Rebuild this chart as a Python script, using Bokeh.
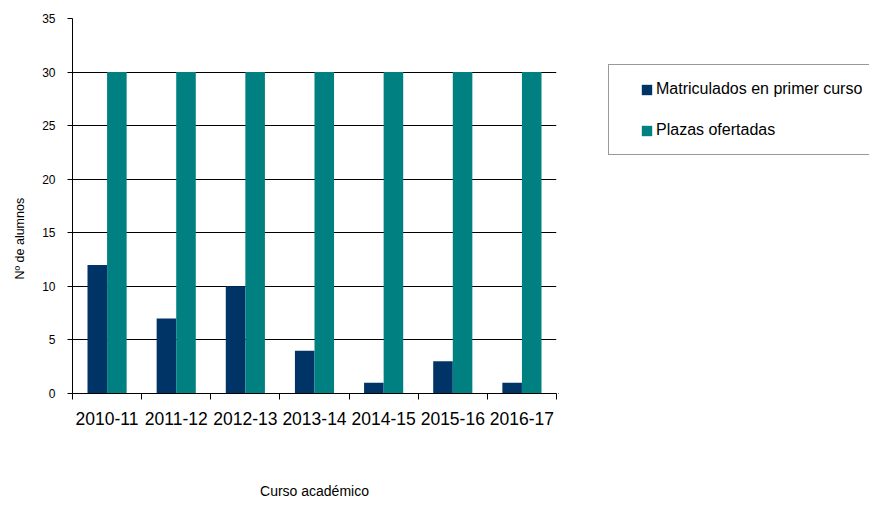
from bokeh.plotting import figure
from bokeh.models import (ColumnDataSource, FixedTicker, Legend, LegendItem, Range1d, Title)
from bokeh.layouts import row
from bokeh.transform import dodge
from bokeh.embed import file_html
from bokeh.resources import INLINE

# ---- data ----
cursos = ["2010-11", "2011-12", "2012-13", "2013-14", "2014-15", "2015-16", "2016-17"]
matriculados = [12, 7, 10, 4, 1, 3, 1]
plazas = [30, 30, 30, 30, 30, 30, 30]
y_ticks = [0, 5, 10, 15, 20, 25, 30, 35]
grid_ticks = [5, 10, 15, 20, 25, 30]
serie_names = ["Matriculados en primer curso", "Plazas ofertadas"]
x_title = "Curso académico"
y_title = "Nº de alumnos"

FONT = "Liberation Sans"
DARK = "#003366"
TEAL = "#008080"

n = len(cursos)
x_pos = [i + 0.5 for i in range(n)]
src = ColumnDataSource(dict(x=x_pos, curso=cursos, mat=matriculados, pla=plazas))

# ---- main chart ----
p = figure(width=558, height=501, x_range=Range1d(0, n), y_range=Range1d(0, 35),
           output_backend="svg", toolbar_location=None,
           min_border_left=72, min_border_right=2, min_border_top=18,
           min_border_bottom=107)
p.outline_line_color = None
p.background_fill_color = "white"

bw = 0.283
r1 = p.vbar(x=dodge("x", -bw / 2, range=p.x_range), top="mat", width=bw, source=src,
            fill_color=DARK, line_color=None)
r2 = p.vbar(x=dodge("x", bw / 2, range=p.x_range), top="pla", width=bw, source=src,
            fill_color=TEAL, line_color=None)

# x axis: labels centred on categories, tick marks at the boundaries
xa = p.xaxis[0]
xa.ticker = FixedTicker(ticks=x_pos, minor_ticks=list(range(n + 1)))
xa.major_label_overrides = {x: c for x, c in zip(x_pos, cursos)}
xa.major_tick_out = 0
xa.major_tick_in = 0
xa.minor_tick_out = 6
xa.minor_tick_in = 0
xa.minor_tick_line_color = "black"
xa.axis_line_color = "black"
xa.major_label_text_font = FONT
xa.major_label_text_font_size = "17.5px"
xa.major_label_text_color = "black"
xa.major_label_standoff = 12
xa.axis_label = x_title
xa.axis_label_text_font = FONT
xa.axis_label_text_font_style = "normal"
xa.axis_label_text_font_size = "14px"
xa.axis_label_text_color = "black"
xa.axis_label_standoff = 55

ya = p.yaxis[0]
ya.ticker = FixedTicker(ticks=y_ticks)
ya.major_tick_out = 5
ya.major_tick_in = 0
ya.minor_tick_out = 0
ya.minor_tick_in = 0
ya.major_tick_line_color = "black"
ya.axis_line_color = "black"
ya.major_label_text_font = FONT
ya.major_label_text_font_size = "12px"
ya.major_label_text_color = "black"
ya.major_label_standoff = 12

# y axis title placed beside the axis (lower than the frame centre, as in the original)
p.add_layout(Title(text=y_title, align="left", offset=114, vertical_align="top",
                   standoff=22, text_font=FONT, text_font_style="normal",
                   text_font_size="12.5px", text_color="black"), "left")

p.xgrid.visible = False
p.ygrid.ticker = FixedTicker(ticks=grid_ticks)
p.ygrid.grid_line_color = "black"
p.ygrid.grid_line_width = 1

# ---- legend panel (separate figure to the right) ----
# legend renderers share the data; the panel's ranges keep their bars out of view
lf = figure(width=311, height=501, output_backend="svg", toolbar_location=None,
            x_axis_type=None, y_axis_type=None, min_border=0,
            x_range=Range1d(1000, 1001), y_range=Range1d(1000, 1001))
lf.outline_line_color = None
lf.xgrid.visible = False
lf.ygrid.visible = False
l1 = lf.vbar(x="x", top="mat", width=bw, source=src, fill_color=DARK, line_color=None)
l2 = lf.vbar(x="x", top="pla", width=bw, source=src, fill_color=TEAL, line_color=None)

legend = Legend(items=[LegendItem(label=serie_names[0], renderers=[l1]),
                       LegendItem(label=serie_names[1], renderers=[l2])],
                location=(50, 238), padding=15, margin=0,
                title=" ", title_location="left", title_standoff=5,
                title_text_font_size="10px",
                border_line_color="#333333", border_line_width=1,
                background_fill_color="white", background_fill_alpha=1,
                glyph_width=13, glyph_height=13, label_height=13,
                label_standoff=3, spacing=23,
                label_text_font=FONT, label_text_font_size="16px",
                label_text_color="black")
lf.add_layout(legend)

layout = row(p, lf)
open("out.html", "w").write(file_html(layout, INLINE))
